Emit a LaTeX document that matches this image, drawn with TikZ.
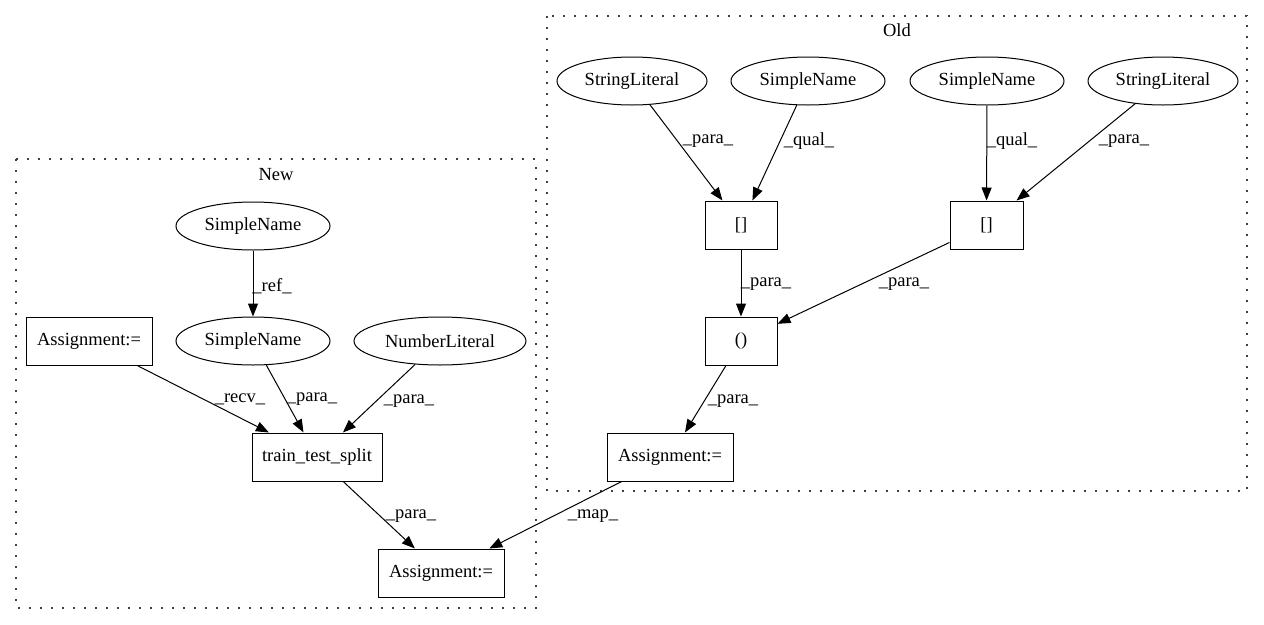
\documentclass[tikz,border=0pt]{standalone}
\usepackage{fontspec}
\setmainfont{Liberation Serif}
\usetikzlibrary{shapes.geometric,arrows.meta}
\tikzset{
  base/.style={draw, line width=1pt, inner sep=0pt, minimum height=48pt, font=\fontsize{18.5}{22}\selectfont},
  ell/.style={base, ellipse},
  box/.style={base, rectangle},
  lbl/.style={inner sep=0pt, font=\fontsize{18.5}{22}\selectfont},
  edge/.style={line width=1pt, -{Triangle[length=13pt,width=10pt]}},
  clus/.style={line width=1.3pt, dash pattern=on 2pt off 9pt, black!75}
}
\begin{document}
\begin{tikzpicture}[x=1pt,y=-1pt]
\useasboundingbox (0,0) rectangle (1264,624);
% clusters
\draw[clus] (547,16) rectangle (1247,491);
\draw[clus] (16,159) rectangle (536,608);
\node[lbl] (oldlbl) at (897,30) {Old};
\node[lbl] (newlbl) at (276,175) {New};
% Old nodes
\node[ell, minimum width=150pt] (osl1) at (632,81) {StringLiteral};
\node[ell, minimum width=154pt] (osn1) at (808,81) {SimpleName};
\node[ell, minimum width=154pt] (osn2) at (987,81) {SimpleName};
\node[ell, minimum width=150pt] (osl2) at (1163,81) {StringLiteral};
\node[box, minimum width=72pt] (ob1) at (741,225) {[]};
\node[box, minimum width=73pt] (ob2) at (986.5,225) {[]};
\node[box, minimum width=72pt] (opar) at (741,341) {()};
\node[box, minimum width=126pt] (oas) at (670,457) {Assignment:=};
% New nodes
\node[ell, minimum width=154pt] (nsn1) at (253,226) {SimpleName};
\node[ell, minimum width=154pt] (nsn2) at (253,341) {SimpleName};
\node[ell, minimum width=172pt] (nnl) at (440,341) {NumberLiteral};
\node[box, minimum width=126pt] (nas1) at (89,341) {Assignment:=};
\node[box, minimum width=130pt] (ntts) at (317,457) {train\_test\_split};
\node[box, minimum width=126pt] (nas2) at (441,573) {Assignment:=};
% edges
\draw[edge] (osl1) -- (ob1);
\draw[edge] (osn1) -- (ob1);
\draw[edge] (osn2) -- (ob2);
\draw[edge] (osl2) -- (ob2);
\draw[edge] (ob1) -- (opar);
\draw[edge] (ob2) -- (opar);
\draw[edge] (opar) -- (oas);
\draw[edge] (nsn1) -- (nsn2);
\draw[edge] (nas1) -- (ntts);
\draw[edge] (nsn2) -- (ntts);
\draw[edge] (nnl) -- (ntts);
\draw[edge] (ntts) -- (nas2);
\draw[edge] (oas) -- (nas2);
% edge labels
\node[lbl] (l1) at (708,141) {\_para\_};
\node[lbl] (l2) at (809,141) {\_qual\_};
\node[lbl] (l3) at (1012,141) {\_qual\_};
\node[lbl] (l4) at (1124,141) {\_para\_};
\node[lbl] (l5) at (766,284) {\_para\_};
\node[lbl] (l6) at (904,284) {\_para\_};
\node[lbl] (l7) at (733,401) {\_para\_};
\node[lbl] (l8) at (272,286) {\_ref\_};
\node[lbl] (l9) at (240,399) {\_recv\_};
\node[lbl] (l10) at (312,399) {\_para\_};
\node[lbl] (l11) at (409,401) {\_para\_};
\node[lbl] (l12) at (411,516) {\_para\_};
\node[lbl] (l13) at (593,516) {\_map\_};
\end{tikzpicture}
\end{document}
